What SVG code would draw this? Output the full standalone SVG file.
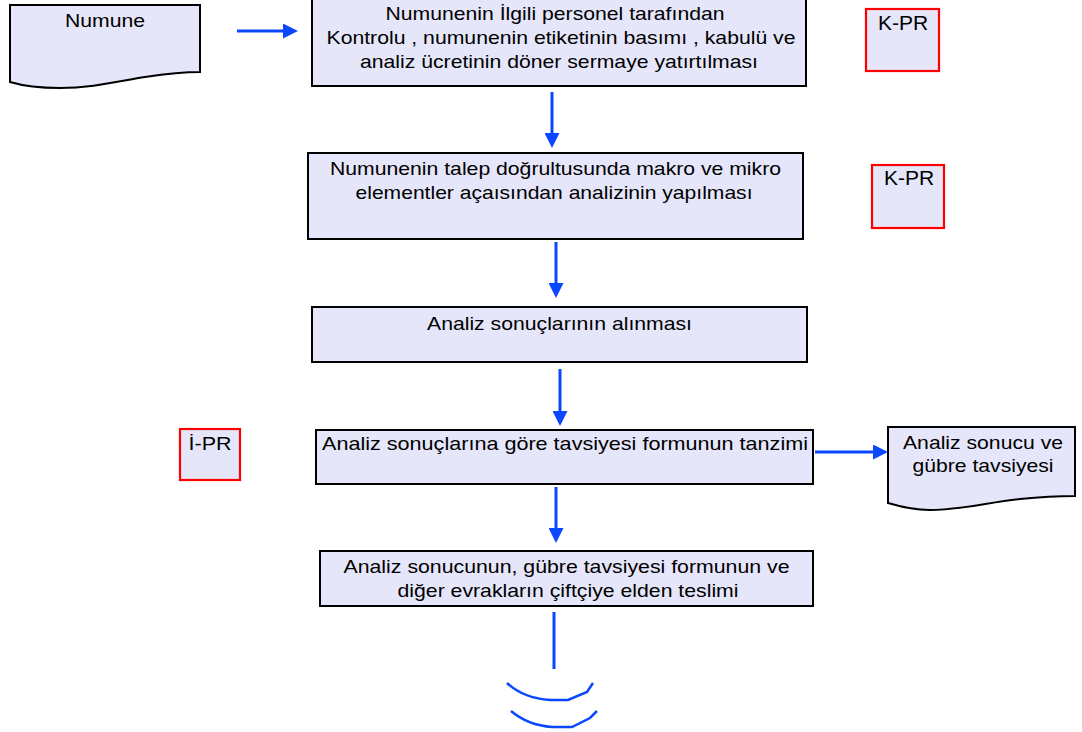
<svg xmlns="http://www.w3.org/2000/svg" width="1082" height="732" viewBox="0 0 1082 732">
<defs>
<style>
.box{fill:#E6E6FA;stroke:#000;stroke-width:2}
.ref{fill:#E6E6FA;stroke:#FF0000;stroke-width:2.2}
.t{font-family:"Liberation Sans",Arial,sans-serif;font-size:18.6px;fill:#000;text-anchor:middle}
.k{font-family:"Liberation Sans",Arial,sans-serif;font-size:21px;fill:#000;text-anchor:middle}
.con{stroke:#0A47FF;stroke-width:3;fill:none}
</style>
<marker id="ah" markerWidth="15" markerHeight="15" viewBox="0 0 15 15" refX="4" refY="7.5" orient="auto" markerUnits="userSpaceOnUse">
<path d="M0,0 L15,7.5 L0,15 Z" fill="#0A47FF"/>
</marker>
</defs>
<rect width="1082" height="732" fill="#fff"/>
<g id="numune">
<path class="box" d="M10,5 H200 V72 C185,72 165,74 145,77 C115,82 90,88 60,88 C40,88 20,85 10,82 Z"/>
<text class="t" x="105" y="26.5" textLength="80" lengthAdjust="spacingAndGlyphs">Numune</text>
</g>
<g id="step1">
<rect class="box" x="312" y="-2" width="494" height="88"/>
<text class="t" x="555" y="20" textLength="339" lengthAdjust="spacingAndGlyphs">Numunenin İlgili personel tarafından</text>
<text class="t" x="561" y="44" textLength="469" lengthAdjust="spacingAndGlyphs">Kontrolu , numunenin etiketinin basımı , kabulü ve</text>
<text class="t" x="559" y="68" textLength="398" lengthAdjust="spacingAndGlyphs">analiz ücretinin döner sermaye yatırtılması</text>
</g>
<g id="kpr1">
<rect class="ref" x="866" y="9" width="73" height="62"/>
<text class="k" x="903" y="30">K-PR</text>
</g>
<g id="step2">
<rect class="box" x="308" y="153" width="495" height="86"/>
<text class="t" x="555.5" y="175" textLength="451" lengthAdjust="spacingAndGlyphs">Numunenin talep doğrultusunda makro ve mikro</text>
<text class="t" x="554" y="199" textLength="397" lengthAdjust="spacingAndGlyphs">elementler açaısından analizinin yapılması</text>
</g>
<g id="kpr2">
<rect class="ref" x="872" y="165" width="72" height="63"/>
<text class="k" x="909" y="185">K-PR</text>
</g>
<g id="step3">
<rect class="box" x="312" y="307" width="495" height="55"/>
<text class="t" x="559.5" y="329.5" textLength="265" lengthAdjust="spacingAndGlyphs">Analiz sonuçlarının alınması</text>
</g>
<g id="ipr">
<rect class="ref" x="180" y="429" width="60" height="51"/>
<text class="t" x="210" y="450" textLength="43" lengthAdjust="spacingAndGlyphs">İ-PR</text>
</g>
<g id="step4">
<rect class="box" x="316" y="430" width="497" height="54"/>
<text class="t" x="322" y="450" style="text-anchor:start" textLength="486" lengthAdjust="spacingAndGlyphs">Analiz sonuçlarına göre  tavsiyesi formunun tanzimi</text>
</g>
<g id="result">
<path class="box" d="M888,427 H1075 V496 C1060,496 1040,497 1020,499 C990,502 960,510 930,510 C912,510 898,506 888,503 Z"/>
<text class="t" x="983" y="448.5" textLength="160" lengthAdjust="spacingAndGlyphs">Analiz sonucu ve</text>
<text class="t" x="983" y="472" textLength="141" lengthAdjust="spacingAndGlyphs">gübre tavsiyesi</text>
</g>
<g id="step5">
<rect class="box" x="320" y="551" width="493" height="55"/>
<text class="t" x="566.5" y="572.5" textLength="446" lengthAdjust="spacingAndGlyphs">Analiz sonucunun, gübre tavsiyesi formunun ve</text>
<text class="t" x="568" y="596.5" textLength="341" lengthAdjust="spacingAndGlyphs">diğer evrakların çiftçiye elden teslimi</text>
</g>
<g id="connectors">
<line class="con" x1="237" y1="31" x2="287" y2="31" marker-end="url(#ah)"/>
<line class="con" x1="552" y1="92" x2="552" y2="137" marker-end="url(#ah)"/>
<line class="con" x1="556" y1="242" x2="556" y2="287" marker-end="url(#ah)"/>
<line class="con" x1="560" y1="369" x2="560" y2="415" marker-end="url(#ah)"/>
<line class="con" x1="815" y1="452" x2="877" y2="452" marker-end="url(#ah)"/>
<line class="con" x1="556" y1="487" x2="556" y2="532" marker-end="url(#ah)"/>
<line class="con" x1="554" y1="612" x2="554" y2="669"/>
<path class="con" d="M507,683 C520,695 535,699 550,700 L568,700 L587,692 L593,683" style="stroke-width:2.5"/>
<path class="con" d="M511,711 C524,722 538,726 552,727 L572,727 L590,718 L597,711" style="stroke-width:2.5"/>
</g>
</svg>
